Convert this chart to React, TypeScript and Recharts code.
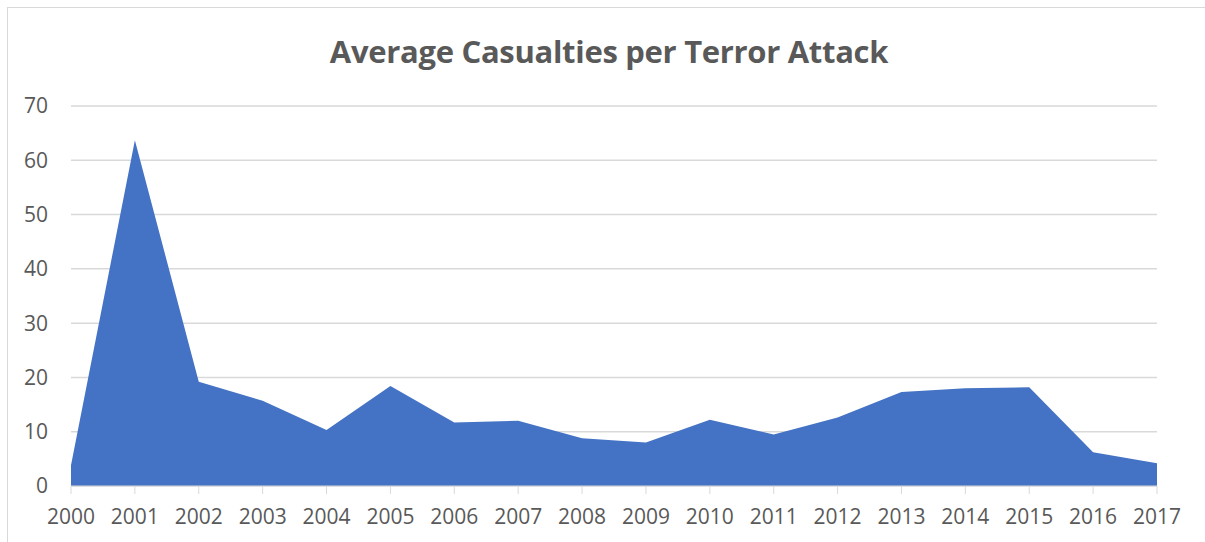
import React from 'react';
import { AreaChart, Area, XAxis, YAxis, CartesianGrid } from 'recharts';

const years = ['2000', '2001', '2002', '2003', '2004', '2005', '2006', '2007', '2008', '2009',
  '2010', '2011', '2012', '2013', '2014', '2015', '2016', '2017'];
const casualties = [3.8, 63.7, 19.2, 15.7, 10.3, 18.4, 11.7, 12.0, 8.8, 8.0,
  12.2, 9.5, 12.6, 17.3, 18.0, 18.2, 6.2, 4.2];
const yTicks = [0, 10, 20, 30, 40, 50, 60, 70];

const data = years.map((year, i) => ({ year, value: casualties[i] }));

const FONT = '"Open Sans", "DejaVu Sans", sans-serif';
const TEXT = '#595959';
const LINE = '#d9d9d9';

export default function App() {
  return (
    <div
      style={{
        position: 'absolute',
        left: 0,
        top: 0,
        width: 1205,
        height: 542,
        overflow: 'hidden',
        background: '#fff',
        fontFamily: FONT,
      }}
    >
      {/* chart frame, runs off the right and bottom edges */}
      <div
        style={{
          position: 'absolute',
          left: 7,
          top: 7,
          width: 1300,
          height: 700,
          border: `1px solid ${LINE}`,
        }}
      />
      <div
        style={{
          position: 'absolute',
          left: 0,
          top: 30,
          width: 1218,
          textAlign: 'center',
          fontSize: 31,
          fontWeight: 700,
          color: TEXT,
          lineHeight: '42px',
          letterSpacing: -0.3,
        }}
      >
        Average Casualties per Terror Attack
      </div>
      <AreaChart
        width={1205}
        height={542}
        data={data}
        margin={{ top: 106, right: 48, left: 0, bottom: 0 }}
        style={{ position: 'absolute', left: 0, top: 0 }}
      >
        <CartesianGrid vertical={false} stroke={LINE} strokeWidth={1.5} />
        <XAxis
          dataKey="year"
          height={56}
          stroke={LINE}
          tickSize={8}
          tickMargin={15}
          tick={{ fill: TEXT, fontSize: 21, fontFamily: FONT }}
          interval={0}
        />
        <YAxis
          width={71}
          domain={[0, 70]}
          ticks={yTicks}
          axisLine={false}
          tickLine={false}
          tickSize={0}
          tickMargin={23}
          tick={{ fill: TEXT, fontSize: 21, fontFamily: FONT }}
        />
        <Area
          type="linear"
          dataKey="value"
          stroke="none"
          fill="#4472c4"
          fillOpacity={1}
          isAnimationActive={false}
        />
      </AreaChart>
    </div>
  );
}
